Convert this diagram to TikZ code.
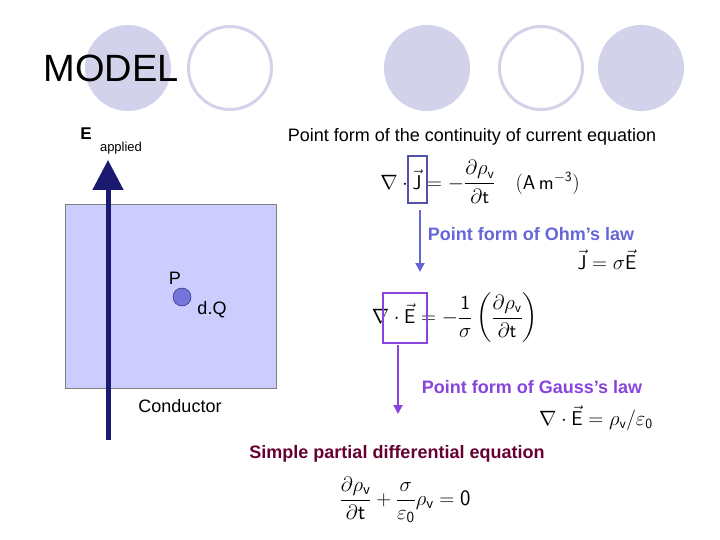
\documentclass[tikz,border=0pt]{standalone}
\usepackage{fontspec}
\setmainfont{Liberation Sans}
\usepackage{amsmath}
\usetikzlibrary{arrows.meta}
\definecolor{circ}{HTML}{D2D2EA}
\definecolor{cond}{HTML}{CCCCFF}
\definecolor{navy}{HTML}{1A1A70}
\definecolor{ohm}{HTML}{6666D8}
\definecolor{gauss}{HTML}{8844DD}
\definecolor{maroon}{HTML}{660033}
\tikzset{
 fc/.style={circle,fill=circ,minimum size=86pt,inner sep=0},
 oc/.style={circle,draw=circ,line width=3pt,minimum size=83pt,inner sep=0},
 txt/.style={font=\fontsize{18}{21}\selectfont},
 btxt/.style={font=\fontsize{18}{21}\selectfont\bfseries},
 eq/.style={font=\fontsize{20}{23}\selectfont},
 bx/.style={draw,line width=2.5pt,minimum width=#1,inner sep=0},
}
\begin{document}
\begin{tikzpicture}[x=1pt,y=-1pt]
\useasboundingbox (0,0) rectangle (720,540);
\node[fc] (c1) at (128,68) {};
\node[oc] (c2) at (230,68) {};
\node[fc] (c3) at (427,68) {};
\node[oc] (c4) at (541,68) {};
\node[fc] (c5) at (641,68) {};
\node[font=\fontsize{38}{44}\selectfont,anchor=west] (title) at (40,68) {MODEL};
\node[draw=gray,fill=cond,minimum width=211pt,minimum height=184pt,anchor=north west,inner sep=0] (cd) at (65,204) {};
\coordinate (ab) at (108,440);
\coordinate (at) at (108,160);
\draw[navy,line width=5pt,-{Triangle[width=30pt,length=30pt]}] (ab) -- (at);
\node[font=\fontsize{17}{20}\selectfont\bfseries] (E) at (86,134) {E};
\node[font=\fontsize{13}{15}\selectfont] (ap) at (121,148) {applied};
\node[circle,draw=navy,fill=ohm!90,minimum size=18pt,inner sep=0] (P) at (182,297) {};
\node[txt] (Pl) at (175,278) {P};
\node[txt] (dq) at (212,310) {d.Q};
\node[txt] (con) at (180,406) {Conductor};
\node[txt] (cont) at (472,137) {Point form of the continuity of current equation};
\node[eq] (e1) at (480,182) {$\nabla\cdot\vec{\mathsf J}=-\dfrac{\partial\rho_{\mathsf v}}{\partial \mathsf t}\quad(\mathsf{A\,m^{-3}})$};
\node[bx=19pt,draw=ohm!80!black,minimum height=47pt] (b1) at (417.5,179.5) {};
\coordinate (a1e) at (420,272);
\draw[ohm,line width=2pt,-{Triangle[width=9pt,length=9pt]}] (b1.south) ++(2.5,6) -- (a1e);
\node[btxt,text=ohm] (ohm) at (531,234) {Point form of Ohm's law};
\node[eq] (e2) at (607,260) {$\vec{\mathsf J}=\sigma\vec{\mathsf E}$};
\node[eq] (e3) at (455,318) {$\nabla\cdot\vec{\mathsf E}=-\dfrac{\mathsf 1}{\sigma}\left(\dfrac{\partial\rho_{\mathsf v}}{\partial \mathsf t}\right)$};
\node[bx=44pt,draw=gauss,minimum height=50pt] (b2) at (405,318) {};
\coordinate (a2s) at (398,345);
\coordinate (a2e) at (398,414);
\draw[gauss,line width=2pt,-{Triangle[width=9pt,length=9pt]}] (a2s) -- (a2e);
\node[btxt,text=gauss] (gl) at (532,387) {Point form of Gauss's law};
\node[eq] (e4) at (596,418) {$\nabla\cdot\vec{\mathsf E}=\rho_{\mathsf v}/\varepsilon_{\mathsf 0}$};
\node[btxt,text=maroon] (spde) at (397,454) {Simple partial differential equation};
\node[eq,font=\fontsize{22}{25}\selectfont] (e5) at (405,500) {$\dfrac{\partial\rho_{\mathsf v}}{\partial \mathsf t}+\dfrac{\sigma}{\varepsilon_{\mathsf 0}}\rho_{\mathsf v}=\mathsf 0$};
\end{tikzpicture}
\end{document}
